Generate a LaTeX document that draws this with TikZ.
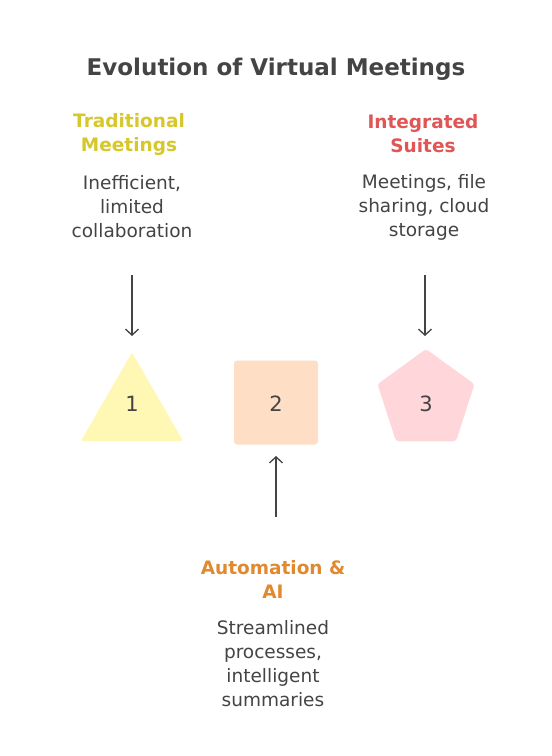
\documentclass[tikz,border=0pt]{standalone}
\usepackage{fontspec}
\setmainfont{DejaVu Sans}
\usetikzlibrary{shapes.geometric,arrows.meta}
\definecolor{ink}{HTML}{444444}
\definecolor{yel}{HTML}{D6C72B}
\definecolor{org}{HTML}{E0892E}
\definecolor{redd}{HTML}{E05555}
\definecolor{yfill}{HTML}{FFF8B5}
\definecolor{ofill}{HTML}{FEDFC6}
\definecolor{rfill}{HTML}{FFD6D9}
\tikzset{
  title/.style={font=\fontsize{23}{26}\selectfont\bfseries, text=ink},
  head/.style={font=\fontsize{18.5}{24}\selectfont\bfseries, align=center, inner sep=0pt},
  desc/.style={font=\fontsize{18.5}{24}\selectfont, text=ink, align=center, inner sep=0pt},
  num/.style={font=\fontsize{21}{24}\selectfont, text=ink, inner sep=0pt},
  arr/.style={draw=ink, line width=1.3pt, -{Straight Barb[length=6pt,width=13pt,line width=1.3pt]}},
}
\begin{document}
\begin{tikzpicture}[x=1pt,y=-1pt]
\useasboundingbox[fill=white] (0,0) rectangle (552,756);
\node[title] (t) at (276,69) {Evolution of Virtual Meetings};
% headings
\node[head,text=yel] (h1) at (129,134) {Traditional\\Meetings};
\node[head,text=redd] (h3) at (423,134) {Integrated\\Suites};
\node[head,text=org] (h2) at (273,579) {Automation \&\\AI};
% descriptions
\node[desc] (d1) at (132,207) {Inefficient,\\limited\\collaboration};
\node[desc] (d3) at (424,207) {Meetings, file\\sharing, cloud\\storage};
\node[desc] (d2) at (273,664) {Streamlined\\processes,\\intelligent\\summaries};
% shapes
\node[regular polygon, regular polygon sides=3, minimum size=118pt, inner sep=0pt, fill=yfill, rounded corners=2pt] (s1) at (132,411.5) {};
\node[rectangle, minimum width=84pt, minimum height=84pt, fill=ofill, rounded corners=3pt] (s2) at (276,402.5) {};
\node[regular polygon, regular polygon sides=5, minimum size=102pt, inner sep=0pt, fill=rfill, rounded corners=3pt] (s3) at (426,400) {};
\node[num] (n1) at (132,404) {1};
\node[num] (n2) at (276,404) {2};
\node[num] (n3) at (426,404) {3};
% arrows
\coordinate (a1s) at (132,275); \coordinate (a1e) at (132,336);
\coordinate (a3s) at (425,275); \coordinate (a3e) at (425,336);
\coordinate (a2s) at (276,517); \coordinate (a2e) at (276,456);
\draw[arr] (a1s) -- (a1e);
\draw[arr] (a3s) -- (a3e);
\draw[arr] (a2s) -- (a2e);
\end{tikzpicture}
\end{document}
